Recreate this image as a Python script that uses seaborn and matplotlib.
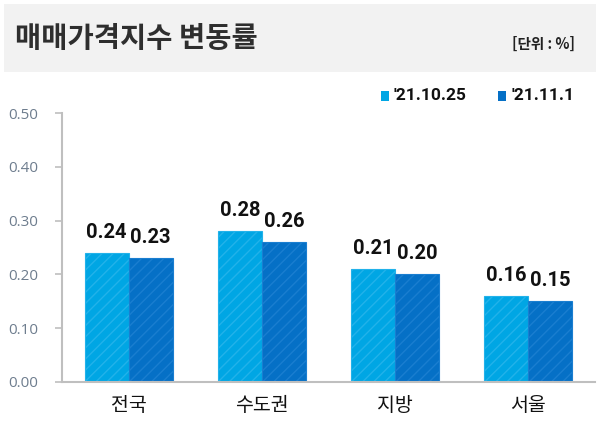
import numpy as np
import pandas as pd
import matplotlib.pyplot as plt
import seaborn as sns
from matplotlib.patches import Rectangle

regions = ["전국", "수도권", "지방", "서울"]
dates = ["'21.10.25", "'21.11.1"]
week1 = [0.24, 0.28, 0.21, 0.16]
week2 = [0.23, 0.26, 0.20, 0.15]
yticks = [0.0, 0.1, 0.2, 0.3, 0.4, 0.5]

df = pd.DataFrame({
    "region": regions * 2,
    "date": [dates[0]] * 4 + [dates[1]] * 4,
    "value": week1 + week2,
})

sns.set_style("white")
plt.rcParams["font.family"] = ["Noto Sans CJK KR", "DejaVu Sans"]
plt.rcParams["hatch.linewidth"] = 1.0

fill_cols = ["#00A6E4", "#0570C6"]
edge_cols = ["#22B2EA", "#1A7ED0"]
num_font = ["Roboto", "DejaVu Sans"]

fig = plt.figure(figsize=(6.03, 4.37), dpi=100)
ax = fig.add_axes([0.1028, 0.1259, 0.884, 0.6155])

sns.barplot(data=df, x="region", y="value", hue="date", hue_order=dates,
            palette=fill_cols, width=0.66, ax=ax, legend=False, saturation=1)

for i, cont in enumerate(ax.containers):
    for bar in cont:
        bar.set_edgecolor(edge_cols[i])
        bar.set_hatch("///")
        bar.set_linewidth(0.8)
    ax.bar_label(cont, labels=[f"{v:.2f}" for v in cont.datavalues], padding=8,
                 fontsize=14.5, fontweight="bold", color="#111111", family=num_font)

ax.set_xlim(-0.5, 3.5)
ax.set_ylim(0, 0.5)
ax.set_yticks(yticks)
ax.set_yticklabels([f"{t:.2f}" for t in yticks], color="#6E7D8E", fontsize=11,
                   family=["Open Sans", "DejaVu Sans"])
ax.tick_params(axis="y", left=True, length=5, width=1.2, color="#BFBFBF", pad=12)
ax.tick_params(axis="x", bottom=False, labelsize=14, labelcolor="#111111", pad=6)
for lab in ax.get_xticklabels():
    lab.set_fontweight("medium")
ax.set_xlabel("")
ax.set_ylabel("")
for s in ["top", "right"]:
    ax.spines[s].set_visible(False)
for s in ["left", "bottom"]:
    ax.spines[s].set_color("#BFBFBF")
    ax.spines[s].set_linewidth(1.5)

# header band
fig.patches.append(Rectangle((4 / 603, 1 - 72 / 437), 592 / 603, 68 / 437,
                             transform=fig.transFigure, facecolor="#F2F2F2",
                             edgecolor="none", zorder=0))
fig.text(15 / 603, 1 - 39 / 437, "매매가격지수 변동률", fontsize=20.5, fontweight="bold",
         color="#2E2E2E", va="center", ha="left")
fig.text(575 / 603, 1 - 44 / 437, "[단위 : %]", fontsize=10.5, fontweight="bold",
         color="#222222", va="center", ha="right")

# legend
for xs, lab, c in [(381, dates[0], fill_cols[0]), (498, dates[1], fill_cols[1])]:
    fig.patches.append(Rectangle((xs / 603, 1 - 101 / 437), 8 / 603, 10 / 437,
                                 transform=fig.transFigure, facecolor=c,
                                 edgecolor="none"))
    fig.text((xs + 13) / 603, 1 - 96 / 437, lab, fontsize=12.5, fontweight="bold",
             color="#111111", va="center", ha="left", family=num_font)

fig.savefig("out.png", dpi=100)
